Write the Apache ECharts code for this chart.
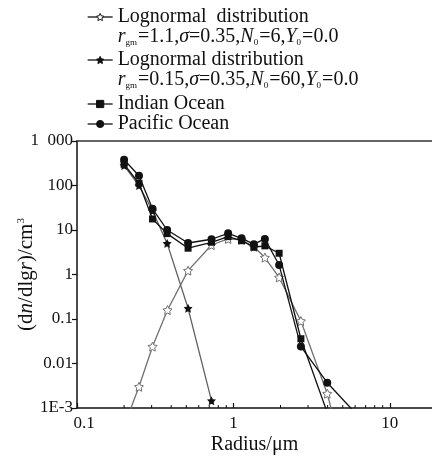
<!DOCTYPE html>
<html><head><meta charset="utf-8">
<script src="https://cdn.jsdelivr.net/npm/echarts@6/dist/echarts.min.js"></script>
<style>html,body{margin:0;padding:0;background:#fff}#c{width:432px;height:457px}</style>
</head><body><div id="c"></div><script>
// ---- data ----
const radiusSmallMode = [0.2, 0.249, 0.304, 0.377, 0.513, 0.724];
const lognormalSmall  = [280, 100, 27, 5.0, 0.174, 0.00146];
const radiusLargeMode = [0.2, 0.249, 0.304, 0.379, 0.513, 0.724, 0.925, 1.127, 1.351, 1.589, 1.96, 2.70, 3.98, 5.0];
const lognormalLarge  = [0.00039, 0.003, 0.024, 0.159, 1.22, 4.6, 6.3, 6.0, 4.2, 2.4, 0.86, 0.09, 0.0021, 0.000093];
const radiusIndian    = [0.2, 0.249, 0.304, 0.377, 0.513, 0.724, 0.925, 1.127, 1.351, 1.589, 1.96, 2.70, 4.0];
const indianOcean     = [300, 112, 17.7, 8.3, 3.9, 5.3, 7.1, 5.75, 4.1, 4.4, 3.0, 0.036, 0.00075];
const radiusPacific   = [0.2, 0.249, 0.304, 0.377, 0.513, 0.724, 0.925, 1.127, 1.351, 1.589, 1.96, 2.70, 3.98, 5.7];
const pacificOcean    = [380, 166, 30, 10, 5.1, 6.2, 8.4, 6.5, 4.8, 6.3, 1.63, 0.024, 0.0037, 0.00095];
const xMinorTicks     = [0.2,0.3,0.4,0.5,0.6,0.7,0.8,0.9,2,3,4,5,6,7,8,9];
const yTickLabels     = ['1E-3','0.01','0.1','1','10','100','1\u2002000']; // exponents -3..3
const xTickLabels     = ['{m|0.1}','1','10'];                              // exponents -1..1
const seriesNames = ['Lognormal  distribution', 'Lognormal distribution', 'Indian Ocean', 'Pacific Ocean'];

const zip = (xs, ys) => xs.map((x, i) => [x, ys[i]]);
const STAR = 'path://M0,-10L2.94,-4.05L9.51,-3.09L4.76,1.55L5.88,8.09L0,5L-5.88,8.09L-4.76,1.55L-9.51,-3.09L-2.94,-4.05Z';
const FONT = 'Liberation Serif';
const rich = {
  b: {fontFamily: FONT, fontSize: 20, lineHeight: 20},
  n: {fontFamily: FONT, fontSize: 20, lineHeight: 20, color: '#111'},
  t: {fontFamily: FONT, fontSize: 20, lineHeight: 20, color: '#111'},
  i: {fontFamily: FONT, fontSize: 20, lineHeight: 20, fontStyle: 'italic', color: '#111'},
  s: {fontFamily: FONT, fontSize: 9, lineHeight: 20, verticalAlign: 'bottom', color: '#111', padding: [0,1,0,0]}
};
const params1 = '{i|r}{s|gm}{t|=1.1,}{i|σ}{t|=0.35,}{i|N}{s|0}{t|=6,}{i|Y}{s|0}{t|=0.0}';
const params2 = '{i|r}{s|gm}{t|=0.15,}{i|σ}{t|=0.35,}{i|N}{s|0}{t|=60,}{i|Y}{s|0}{t|=0.0}';
const legendBase = {orient: 'vertical', left: 87, padding: 0, itemWidth: 25, itemHeight: 9, itemGap: 0,
  textStyle: {fontFamily: FONT, fontSize: 20, color: '#111', rich: rich}, selectedMode: false,
  lineStyle: {color: '#111', width: 1.3}};
const legendItem = (name, fill) => ({name: name, lineStyle: {color: '#111', width: 1.3},
  itemStyle: {color: fill, borderColor: '#111', borderWidth: 1}});

const chart = echarts.init(document.getElementById('c'), null, {renderer: 'canvas'});
chart.setOption({
  backgroundColor: '#fff',
  animation: false,
  grid: {left: 77, top: 141, right: 0, bottom: 49, outerBoundsMode: 'none', containLabel: false},
  legend: [
    Object.assign({}, legendBase, {top: -13, data: [legendItem(seriesNames[0], '#fff')],
      formatter: n => '{b| }\n{n|' + n + '}\n' + params1}),
    Object.assign({}, legendBase, {top: 30, data: [legendItem(seriesNames[1], '#111')],
      formatter: n => '{b| }\n{n|' + n + '}\n' + params2}),
    Object.assign({}, legendBase, {top: 94, data: [legendItem(seriesNames[2], '#111'), legendItem(seriesNames[3], '#111')],
      formatter: n => '{n|' + n + '}'})
  ],
  xAxis: [{
    type: 'log', logBase: 10, min: 0.1, max: 18.6,
    name: 'Radius/μm', nameLocation: 'middle', nameGap: 27, nameMoveOverlap: false,
    nameTextStyle: {fontFamily: FONT, fontSize: 20, color: '#111'},
    axisLine: {lineStyle: {color: '#111', width: 1.5}},
    axisTick: {inside: true, length: 5, lineStyle: {color: '#111', width: 1.2}},
    axisLabel: {fontFamily: FONT, fontSize: 17, color: '#111', margin: 7, showMaxLabel: false,
      rich: {m: {fontFamily: FONT, fontSize: 17, color: '#111', padding: [0, 0, 0, 14]}},
      formatter: v => xTickLabels[Math.round(Math.log10(v)) + 1] || ''},
    splitLine: {show: false}
  }, {
    type: 'log', logBase: 10, min: 0.1, max: 18.6, position: 'top',
    axisLine: {lineStyle: {color: '#333', width: 1.5}},
    axisTick: {show: false}, axisLabel: {show: false}, splitLine: {show: false}
  }],
  yAxis: {
    type: 'log', logBase: 10, min: 0.001, max: 1000,
    name: '(d{i|n}/dlg{i|r})/cm{u|3}', nameLocation: 'middle', nameGap: 40, nameRotate: 90,
    nameMoveOverlap: false,
    nameTextStyle: {fontFamily: FONT, fontSize: 21, color: '#111',
      rich: {i: {fontFamily: FONT, fontSize: 21, fontStyle: 'italic', color: '#111'},
             u: {fontFamily: FONT, fontSize: 11, verticalAlign: 'top', color: '#111'}}},
    axisLine: {lineStyle: {color: '#111', width: 1.5}},
    axisTick: {inside: false, length: 5, lineStyle: {color: '#111', width: 1.2}},
    axisLabel: {fontFamily: FONT, fontSize: 17, color: '#111', margin: 4,
      formatter: v => yTickLabels[Math.round(Math.log10(v)) + 3] || ''},
    splitLine: {show: false}
  },
  series: [
    {name: seriesNames[0], type: 'line', data: zip(radiusLargeMode, lognormalLarge),
     symbol: STAR, symbolSize: 9, showAllSymbol: true,
     lineStyle: {color: '#707070', width: 1.3},
     itemStyle: {color: '#fff', borderColor: '#707070', borderWidth: 1}, z: 2},
    {name: seriesNames[1], type: 'line', data: zip(radiusSmallMode, lognormalSmall),
     symbol: STAR, symbolSize: 9, showAllSymbol: true,
     lineStyle: {color: '#606060', width: 1.3},
     itemStyle: {color: '#111', borderColor: '#111', borderWidth: 0}, z: 2},
    {name: seriesNames[2], type: 'line', data: zip(radiusIndian, indianOcean),
     symbol: 'rect', symbolSize: 7, showAllSymbol: true,
     lineStyle: {color: '#111', width: 1.3},
     itemStyle: {color: '#111'}, z: 3},
    {name: seriesNames[3], type: 'line', data: zip(radiusPacific, pacificOcean),
     symbol: 'circle', symbolSize: 8, showAllSymbol: true,
     lineStyle: {color: '#111', width: 1.3},
     itemStyle: {color: '#111'}, z: 3},
    {type: 'custom', silent: true, z: 5, clip: false,
     data: xMinorTicks.map(v => [v, 0.001]),
     renderItem: (p, api) => {
       const pt = api.coord([api.value(0), api.value(1)]);
       return {type: 'line', shape: {x1: pt[0], y1: pt[1], x2: pt[0], y2: pt[1] - 3},
               style: {stroke: '#111', lineWidth: 1}};
     }}
  ]
});
</script></body></html>
